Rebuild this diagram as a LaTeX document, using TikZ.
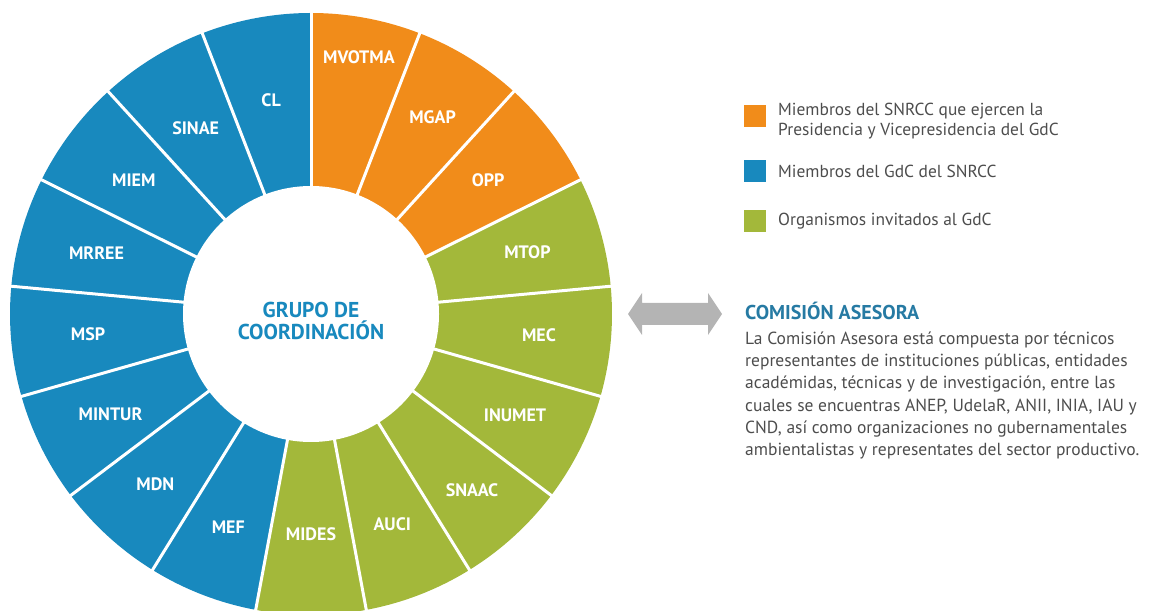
\documentclass[tikz,border=0pt]{standalone}
\usepackage{fontspec}
\setmainfont{PT Sans}
\usepackage{tikz}
\usetikzlibrary{positioning,calc}
\usepackage{xcolor}
\definecolor{orgC}{RGB}{241,140,26}
\definecolor{bluC}{RGB}{24,137,190}
\definecolor{grnC}{RGB}{163,184,58}
\definecolor{txtC}{RGB}{77,77,77}
\definecolor{ttlC}{RGB}{38,122,163}
\definecolor{arrC}{RGB}{180,180,180}

\begin{document}
\begin{tikzpicture}[x=1pt, y=1pt,
    seglabel/.style={text=white, font=\fontsize{18}{20}\selectfont\bfseries},
    legbox/.style={minimum size=22pt, inner sep=0pt},
    legtext/.style={text=txtC, font=\fontsize{17.4}{20}\selectfont, align=left, anchor=west, inner sep=0pt}]
    \useasboundingbox (0,0) rectangle (1150,610);
    \coordinate (c) at (311,296);

    % Segments of the wheel
    \foreach \name/\col/\rad [count=\k from 0] in {MVOTMA/orgC/261, MGAP/orgC/231, OPP/orgC/222,
        MTOP/grnC/225, MEC/grnC/229, INUMET/grnC/228, SNAAC/grnC/239, AUCI/grnC/225, MIDES/grnC/220,
        MEF/bluC/229, MDN/bluC/231, MINTUR/bluC/224, MSP/bluC/224, MRREE/bluC/223, MIEM/bluC/222,
        SINAE/bluC/219, CL/bluC/217} {
        \pgfmathsetmacro{\s}{90-\k*360/17}
        \pgfmathsetmacro{\e}{90-(\k+1)*360/17}
        \pgfmathsetmacro{\m}{(\s+\e)/2}
        \fill[\col] (c) -- ++(\s:301) arc[start angle=\s, end angle=\e, radius=301] -- cycle;
        \node[seglabel] (seg\k) at ($(c)+(\m:\rad)$) {\name};
    }
    % White gaps
    \foreach \k in {0,...,16} {
        \pgfmathsetmacro{\s}{90-\k*360/17}
        \draw[white, line width=3pt] (c) -- ++(\s:303);
    }
    \fill[white] (c) circle (128);

    % Centre title
    \node[text=bluC, align=center, font=\fontsize{21.5}{22}\selectfont\bfseries] (grupo) at (311,289)
        {GRUPO DE\\COORDINACIÓN};

    % Legend
    \node[legbox, fill=orgC] (legorg) at (755,494) {};
    \node[legtext] (legorgt) at (778,489) {Miembros del SNRCC que ejercen la\\Presidencia y Vicepresidencia del GdC};
    \node[legbox, fill=bluC] (legblu) at (755,439) {};
    \node[legtext] (legblut) at (778,439) {Miembros del GdC del SNRCC};
    \node[legbox, fill=grnC] (leggrn) at (755,389) {};
    \node[legtext] (leggrnt) at (778,389) {Organismos invitados al GdC};

    % Double arrow
    \fill[arrC] (628,296) -- (642,317) -- (642,307) -- (708,307) -- (708,317) -- (722,296)
        -- (708,275) -- (708,285) -- (642,285) -- (642,275) -- cycle;

    % Comision asesora
    \node[anchor=west, inner sep=0pt, text=ttlC, font=\fontsize{20}{22}\selectfont\bfseries] (comtitle) at (745,299)
        {COMISIÓN ASESORA};
    \node[legtext, font=\fontsize{17.5}{22.2}\selectfont] (comtext) at (745,214.5)
        {La Comisión Asesora está compuesta por técnicos\\
         representantes de instituciones públicas, entidades\\
         académidas, técnicas y de investigación, entre las\\
         cuales se encuentras ANEP, UdelaR, ANII, INIA, IAU y\\
         CND, así como organizaciones no gubernamentales\\
         ambientalistas y representates del sector productivo.};
\end{tikzpicture}
\end{document}
